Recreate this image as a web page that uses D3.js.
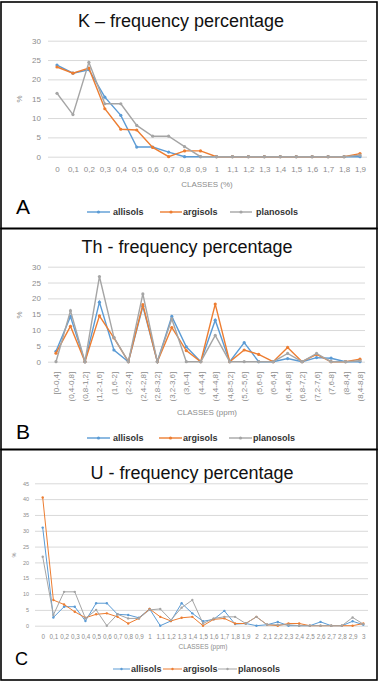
<!DOCTYPE html>
<html>
<head>
<meta charset="utf-8">
<script src="https://cdn.jsdelivr.net/npm/d3@7"></script>
<style>
  body { margin: 0; background: #fff; }
  text { font-family: "Liberation Sans", Arial, sans-serif; }
</style>
</head>
<body>
<div id="chart"></div>
<script>
var svgWidth = 380;
var svgHeight = 682;

// series shared by the three panels
var seriesNames = ["allisols", "argisols", "planosols"];
var seriesColors = ["#5b9bd5", "#ed7d31", "#a5a5a5"];

// K panel
var kClasses = ["0","0,1","0,2","0,3","0,4","0,5","0,6","0,7","0,8","0,9","1","1,1","1,2","1,3","1,4","1,5","1,6","1,7","1,8","1,9"];
var kTicks = [0, 5, 10, 15, 20, 25, 30];
var kAllisols = [23.7, 21.6, 22.5, 15.4, 10.7, 2.5, 2.5, 1.2, 0, 0, 0, 0, 0, 0, 0, 0, 0, 0, 0, 0];
var kArgisols = [23.2, 21.6, 22.9, 12.4, 7.1, 6.9, 2.4, 0, 1.5, 1.5, 0, 0, 0, 0, 0, 0, 0, 0, 0, 0.8];
var kPlanosols = [16.4, 10.9, 24.4, 13.7, 13.7, 8.1, 5.3, 5.3, 2.6, 0, 0, 0, 0, 0, 0, 0, 0, 0, 0, 0.4];

// Th panel
var thClasses = ["[0-0,4]","(0,4-0,8]","(0,8-1,2]","(1,2-1,6]","(1,6-2]","(2-2,4]","(2,4-2,8]","(2,8-3,2]","(3,2-3,6]","(3,6-4]","(4-4,4]","(4,4-4,8]","(4,8-5,2]","(5,2-5,6]","(5,6-6]","(6-6,4]","(6,4-6,8]","(6,8-7,2]","(7,2-7,6]","(7,6-8]","(8-8,4]","(8,4-8,8]"];
var thTicks = [0, 5, 10, 15, 20, 25, 30];
var thAllisols = [3.3, 14.3, 0, 18.8, 3.7, 0, 17.5, 0, 14.3, 4.7, 0, 13.1, 0, 6.0, 0, 0, 1.0, 0, 1.3, 1.1, 0, 0];
var thArgisols = [2.7, 11.2, 0, 14.5, 7.5, 0, 18.0, 0, 10.8, 3.5, 0, 18.2, 0, 3.7, 2.3, 0, 4.5, 0, 2.3, 0, 0, 0.8];
var thPlanosols = [0, 16.1, 0, 26.9, 7.7, 0, 21.4, 0, 13.5, 0, 0, 8.3, 0, 0, 0, 0, 2.6, 0, 2.6, 0, 0, 0.3];

// U panel
var uClasses = ["0","0,1","0,2","0,3","0,4","0,5","0,6","0,7","0,8","0,9","1","1,1","1,2","1,3","1,4","1,5","1,6","1,7","1,8","1,9","2","2,1","2,2","2,3","2,4","2,5","2,6","2,7","2,8","2,9","3"];
var uTicks = [0, 5, 10, 15, 20, 25, 30, 35, 40, 45];
var uAllisols = [31.0, 2.6, 6.0, 6.0, 1.5, 7.1, 7.1, 3.6, 3.4, 2.5, 5.3, 0, 1.5, 7.1, 3.9, 1.4, 2.0, 4.7, 0.5, 0.7, 0, 0.3, 1.2, 0, 0, 0, 1.2, 0, 0, 1.4, 0.3];
var uArgisols = [40.5, 8.1, 6.7, 4.4, 2.5, 3.6, 3.9, 2.8, 0.7, 2.3, 5.3, 2.8, 1.5, 2.5, 2.8, 0, 2.0, 2.3, 0.7, 0.7, 2.8, 0.3, 0, 0.7, 0.7, 0, 0, 0, 0, 0, 0.7];
var uPlanosols = [21.8, 3.4, 10.7, 10.7, 2.3, 5.0, 0, 3.6, 2.3, 2.3, 5.0, 5.3, 1.8, 5.7, 8.1, 0.7, 2.3, 2.8, 2.8, 0.7, 2.8, 0.3, 0.3, 0.3, 0, 0, 0, 0, 0, 2.6, 0.5];

var svg = d3.select("#chart").append("svg")
    .attr("width", svgWidth)
    .attr("height", svgHeight);

svg.append("rect").attr("width", svgWidth).attr("height", svgHeight).attr("fill", "#fff");

function drawPanel(p) {
    var g = svg.append("g");

    var yScale = d3.scaleLinear().domain([0, p.ticks[p.ticks.length - 1]]).range([p.y0, p.y1]);
    var xScale = d3.scalePoint().domain(p.classes).range([p.x0, p.x1]);

    // gridlines + y labels
    var yAxis = d3.axisLeft(yScale)
        .tickValues(p.ticks)
        .tickSize(-(p.gridR - p.gridL))
        .tickPadding(p.yPad);
    g.append("g")
        .attr("transform", `translate(${p.gridL}, 0)`)
        .call(yAxis)
        .call(a => a.select(".domain").remove())
        .call(a => a.selectAll("line").attr("stroke", "#d9d9d9").attr("stroke-width", 1))
        .call(a => a.selectAll("text").attr("fill", "#8c8c8c").attr("font-size", p.yFont)
            .attr("font-family", "Liberation Sans, Arial, sans-serif"));

    // x labels
    var xAxis = d3.axisBottom(xScale).tickSize(0).tickPadding(p.xPad);
    var xg = g.append("g")
        .attr("transform", `translate(0, ${p.y0})`)
        .call(xAxis)
        .call(a => a.select(".domain").remove());
    xg.selectAll("text")
        .attr("fill", "#8c8c8c")
        .attr("font-size", p.xFont)
        .attr("font-family", "Liberation Sans, Arial, sans-serif");
    if (p.rotate) {
        xg.selectAll("text")
            .attr("transform", "rotate(-90)")
            .attr("text-anchor", "end")
            .attr("x", -p.xPad)
            .attr("y", 0)
            .attr("dy", "0.32em");
    }

    // series
    var line = d3.line()
        .x((d, i) => xScale(p.classes[i]))
        .y(d => yScale(d));

    p.series.forEach(function(values, s) {
        g.append("path")
            .datum(values)
            .attr("fill", "none")
            .attr("stroke", seriesColors[s])
            .attr("stroke-width", p.lineW)
            .attr("d", line);
        g.append("g").selectAll("circle")
            .data(values)
            .enter()
            .append("circle")
            .attr("cx", (d, i) => xScale(p.classes[i]))
            .attr("cy", d => yScale(d))
            .attr("r", p.dotR)
            .attr("fill", seriesColors[s]);
    });

    // titles
    g.append("text")
        .attr("x", p.titleX).attr("y", p.titleY)
        .attr("text-anchor", "middle")
        .attr("font-size", 18)
        .attr("fill", "#111")
        .text(p.title);

    g.append("text")
        .attr("x", p.axisX).attr("y", p.axisY)
        .attr("text-anchor", "middle")
        .attr("font-size", p.axisFont)
        .attr("fill", "#8c8c8c")
        .text(p.axisTitle);

    g.append("text")
        .attr("transform", `translate(${p.pctX}, ${p.pctY}) rotate(-90)`)
        .attr("text-anchor", "middle")
        .attr("font-size", p.yFont)
        .attr("fill", "#8c8c8c")
        .text("%");

    g.append("text")
        .attr("x", p.letterX).attr("y", p.letterY)
        .attr("font-size", p.letterSize)
        .attr("fill", "#000")
        .text(p.letter);

    // legend
    p.legend.forEach(function(it, s) {
        g.append("line")
            .attr("x1", it[0]).attr("x2", it[1])
            .attr("y1", p.legendY).attr("y2", p.legendY)
            .attr("stroke", seriesColors[s])
            .attr("stroke-width", p.lineW);
        g.append("circle")
            .attr("cx", (it[0] + it[1]) / 2).attr("cy", p.legendY)
            .attr("r", p.dotR)
            .attr("fill", seriesColors[s]);
        g.append("text")
            .attr("x", it[2]).attr("y", p.legendY + 3.2)
            .attr("font-size", 9)
            .attr("font-weight", "bold")
            .attr("fill", "#333")
            .text(seriesNames[s]);
    });
}

drawPanel({
    classes: kClasses, ticks: kTicks, series: [kAllisols, kArgisols, kPlanosols],
    y0: 156.7, y1: 40.7, gridL: 48, gridR: 367, x0: 57, x1: 360,
    yPad: 7, yFont: 8, xPad: 9.5, xFont: 8, rotate: false,
    lineW: 1.4, dotR: 1.6,
    title: "K \u2013 frequency percentage", titleX: 181, titleY: 27,
    axisTitle: "CLASSES (%)", axisX: 207, axisY: 187, axisFont: 8,
    pctX: 22, pctY: 99,
    letter: "A", letterX: 16, letterY: 214, letterSize: 21,
    legendY: 212, legend: [[87, 110, 113], [160, 182, 183], [230, 252, 256]]
});

drawPanel({
    classes: thClasses, ticks: thTicks, series: [thAllisols, thArgisols, thPlanosols],
    y0: 361.7, y1: 266.7, gridL: 48, gridR: 365, x0: 56, x1: 360,
    yPad: 7, yFont: 8, xPad: 10, xFont: 8, rotate: true,
    lineW: 1.4, dotR: 1.6,
    title: "Th - frequency percentage", titleX: 187, titleY: 253,
    axisTitle: "CLASSES (ppm)", axisX: 207, axisY: 415, axisFont: 8,
    pctX: 22, pctY: 315,
    letter: "B", letterX: 16, letterY: 439, letterSize: 21,
    legendY: 438, legend: [[87, 110, 113], [159, 182, 183], [229, 252, 253]]
});

drawPanel({
    classes: uClasses, ticks: uTicks, series: [uAllisols, uArgisols, uPlanosols],
    y0: 625.7, y1: 483.3, gridL: 35, gridR: 368, x0: 42.7, x1: 363.3,
    yPad: 6, yFont: 5.5, xPad: 8.5, xFont: 6.3, rotate: false,
    lineW: 1, dotR: 1.2,
    title: "U - frequency percentage", titleX: 192, titleY: 479,
    axisTitle: "CLASSES (ppm)", axisX: 203, axisY: 649, axisFont: 6.5,
    pctX: 16, pctY: 555,
    letter: "C", letterX: 15, letterY: 665, letterSize: 18,
    legendY: 669, legend: [[113, 130, 131], [163, 182, 183], [218, 237, 238]]
});

// panel frames
var frames = [[2, 228.5], [228.5, 449.5], [449.5, 680]];
frames.forEach(function(f) {
    svg.append("rect")
        .attr("x", 1).attr("y", f[0])
        .attr("width", 376).attr("height", f[1] - f[0])
        .attr("fill", "none")
        .attr("stroke", "#000")
        .attr("stroke-width", 1.6);
});
</script>
</body>
</html>
